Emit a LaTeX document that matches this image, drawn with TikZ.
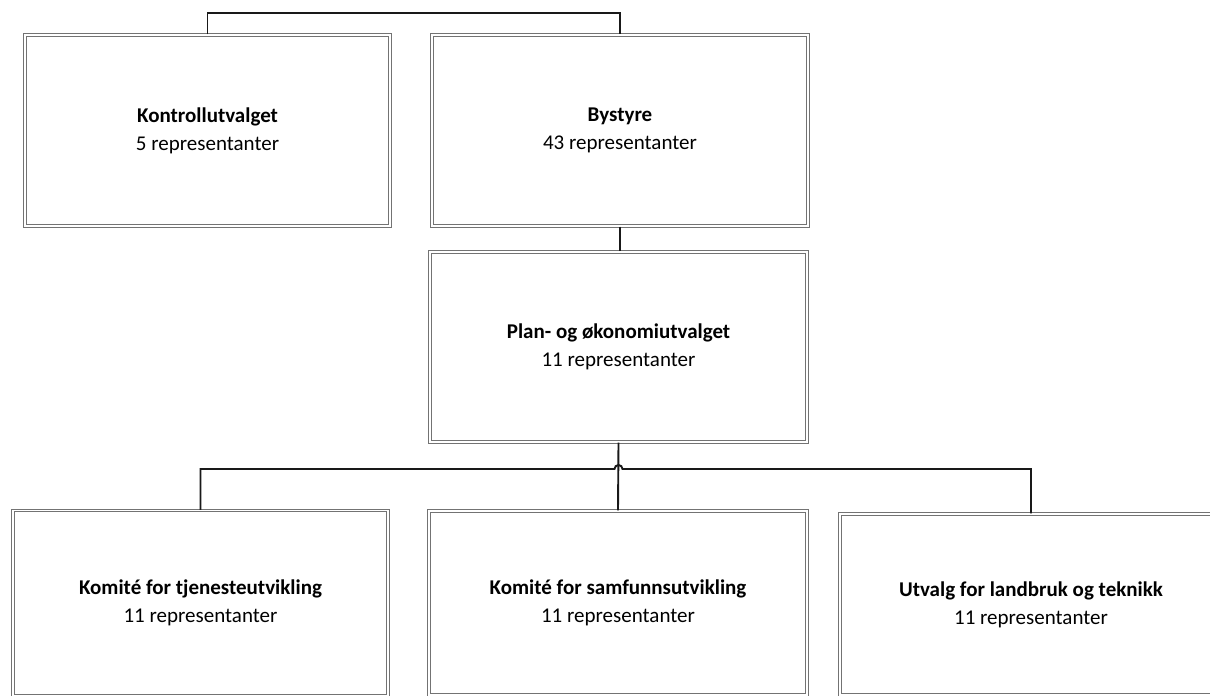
\documentclass[tikz,border=0pt]{standalone}
\usepackage{fontspec}
\setmainfont{Carlito}
\begin{document}
\begin{tikzpicture}[x=1pt,y=-1pt,
  orgbox/.style={rectangle, draw=black!55, double=white, double distance=1.4pt, line width=1.1pt,
    align=center, inner sep=0pt, font=\fontsize{21}{28}\selectfont},
  conn/.style={draw=black!90, line width=1.9pt}]
\clip (0,0) rectangle (1210,696);
\fill[white] (0,0) rectangle (1210,696);

\node[orgbox, minimum width=365, minimum height=191] (kontroll) at (207.5,130.5)
  {\textbf{Kontrollutvalget}\\5 representanter};
\node[orgbox, minimum width=376, minimum height=191] (bystyre) at (620,130.5)
  {\textbf{Bystyre}\\43 representanter};
\node[orgbox, minimum width=377, minimum height=190] (plan) at (618.5,347)
  {\textbf{Plan- og økonomiutvalget}\\11 representanter};
\node[orgbox, minimum width=375, minimum height=185] (tjeneste) at (200.5,603)
  {\textbf{Komité for tjenesteutvikling}\\11 representanter};
\node[orgbox, minimum width=378, minimum height=184] (samfunn) at (618,603)
  {\textbf{Komité for samfunnsutvikling}\\11 representanter};
\node[orgbox, minimum width=382, minimum height=181] (landbruk) at (1031,604.5)
  {\textbf{Utvalg for landbruk og teknikk}\\11 representanter};

\coordinate (topbus) at (0,13);
\coordinate (lowbus) at (0,469);

% top connector
\draw[conn] (kontroll.north) -- (kontroll.north |- topbus) -| (bystyre.north);
% bystyre to plan
\draw[conn] (bystyre.south) -- (bystyre.south |- plan.north);
% plan to middle
\draw[conn] (plan.south) -- (samfunn.north);
% bus with hop
\draw[conn] (tjeneste.north) -- (tjeneste.north |- lowbus) -- ([xshift=-4pt]plan.south |- lowbus)
  arc[start angle=180, end angle=0, radius=4pt] -- (landbruk.north |- lowbus) -- (landbruk.north);
\end{tikzpicture}
\end{document}
